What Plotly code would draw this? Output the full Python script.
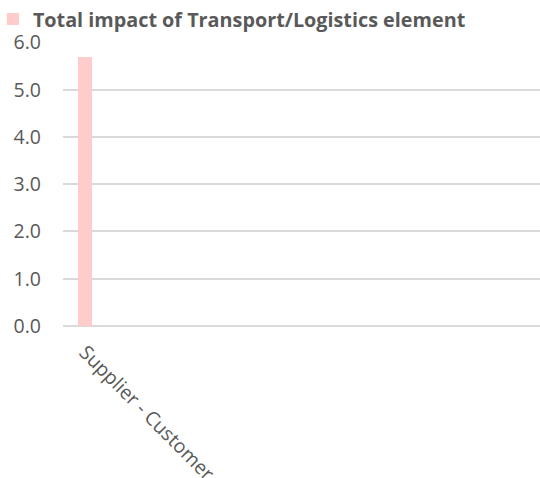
import plotly.graph_objects as go

categories = ["Supplier - Customer"]
values = [5.7]
series_name = "Total impact of Transport/Logistics element"
y_ticks = [0, 1, 2, 3, 4, 5, 6]
y_tick_labels = ["0.0", "1.0", "2.0", "3.0", "4.0", "5.0", "6.0"]

fig = go.Figure()
fig.add_trace(go.Bar(
    x=categories, y=values, name=series_name,
    marker=dict(color="#FFCCCC", line=dict(width=0)),
    width=0.32, showlegend=True,
))

fig.update_layout(
    width=540, height=478,
    margin=dict(l=63, r=0, t=42, b=152, autoexpand=False),
    paper_bgcolor="white", plot_bgcolor="white",
    font=dict(family="Open Sans", color="#595959"),
    showlegend=True,
    legend=dict(
        orientation="h", x=-0.147, y=1.012, xanchor="left", yanchor="bottom",
        font=dict(family="Open Sans", size=19.8, color="#595959", weight="bold"),
        itemwidth=30, bgcolor="rgba(0,0,0,0)",
    ),
    xaxis=dict(
        type="category", range=[-0.5, 10.34], automargin=False,
        tickangle=45, tickfont=dict(family="Open Sans", size=19.5, color="#595959"),
        showgrid=False, showline=False, zeroline=False, ticks="",
        ticklabelstandoff=10,
    ),
    yaxis=dict(
        range=[0, 6.01], tickvals=y_ticks, ticktext=y_tick_labels, automargin=False,
        tickfont=dict(family="Open Sans", size=19.5, color="#595959"),
        showgrid=True, gridcolor="#D9D9D9", gridwidth=1.5,
        zeroline=True, zerolinecolor="#D9D9D9", zerolinewidth=1.5,
        showline=False, ticks="", ticklabelstandoff=21,
    ),
    bargap=0,
)

fig.write_html(
    "out.html",
    config={"displayModeBar": False},
    post_script="document.body.style.margin='0';document.body.style.overflow='hidden';",
)
